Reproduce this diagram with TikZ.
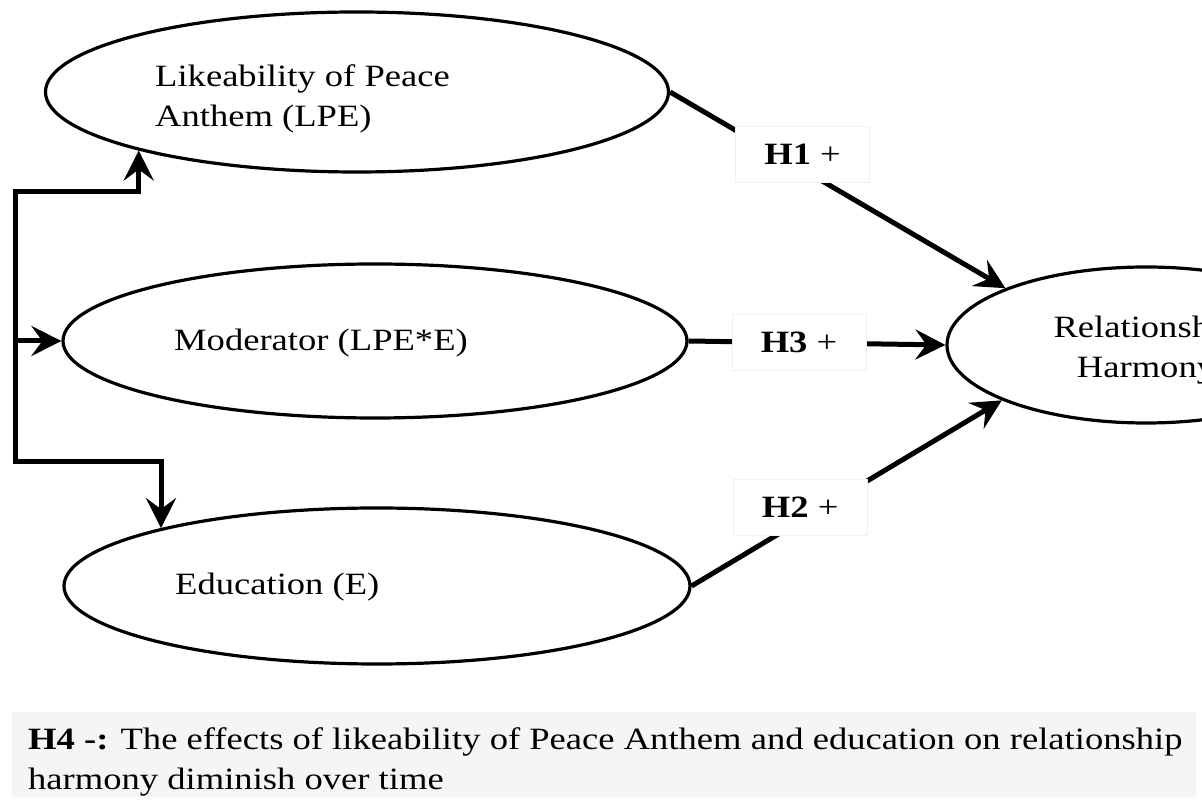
\documentclass[tikz,border=0pt]{standalone}
\usepackage{fontspec}
\setmainfont{Liberation Serif}[FakeStretch=1.18]
\usetikzlibrary{arrows.meta,shapes.geometric}
\tikzset{
  latent/.style={draw, ellipse, line width=3.2pt, inner sep=0pt},
  hyp/.style={fill=white, draw=black!6, line width=1pt, minimum width=134pt, minimum height=56pt, inner sep=0pt},
  conn/.style={line width=5pt}
}
\begin{document}
\begin{tikzpicture}[x=1pt, y=1pt, line join=miter, >={Stealth[length=30pt,width=30pt,inset=11pt]}, font=\fontsize{31}{40}\selectfont]
            \def\xmax{1202}\def\ymax{800}
            \useasboundingbox (0,0) rectangle (\xmax,\ymax);
            \clip (0,0) rectangle (\xmax,\ymax);
            \node[latent, minimum width=623pt, minimum height=160pt] (lpe) at (357,708) {};
            \node[latent, minimum width=624pt, minimum height=154pt] (mod) at (375,459) {};
            \node[latent, minimum width=626pt, minimum height=156pt] (edu) at (377,214) {};
            \node[latent, minimum width=398pt, minimum height=156pt] (rh) at (1146,455) {};
            \node[anchor=north west, align=left, inner sep=0pt] (lpetext) at (155,736) {Likeability of Peace\\Anthem (LPE)};
            \node[anchor=base west, inner sep=0pt] (modtext) at (174,449) {Moderator (LPE*E)};
            \node[anchor=base west, inner sep=0pt] (edutext) at (175,205) {Education (E)};
            \node[anchor=north, align=center, inner sep=0pt] (rhtext) at (1146,484) {Relationship\\Harmony};
            \coordinate (fork1) at (15,608);
            \coordinate (fork2) at (15,338);
            \draw[conn,<->] (lpe.195) |- (fork1) -- (fork2) -| (edu.165);
            \draw[conn,->] (fork1 |- mod.west) -- (mod.west);
            \draw[conn,->] (lpe.east) -- node[hyp, pos=.395, yshift=15pt] {\textbf{H1} +} (rh.158);
            \draw[conn,->] (mod.east) -- node[hyp, pos=.43] {\textbf{H3} +} (rh.west);
            \draw[conn,->] (edu.east) -- node[hyp, pos=.35, yshift=14pt] {\textbf{H2} +} (rh.201);
            \fill[black!4] (12,3) rectangle (1196,88);
            \node[anchor=north west, align=left, inner sep=0pt] (note) at (28,73) {\textbf{H4 -:} The effects of likeability of Peace Anthem and education on relationship\\harmony diminish over time};
        \end{tikzpicture}
\end{document}
